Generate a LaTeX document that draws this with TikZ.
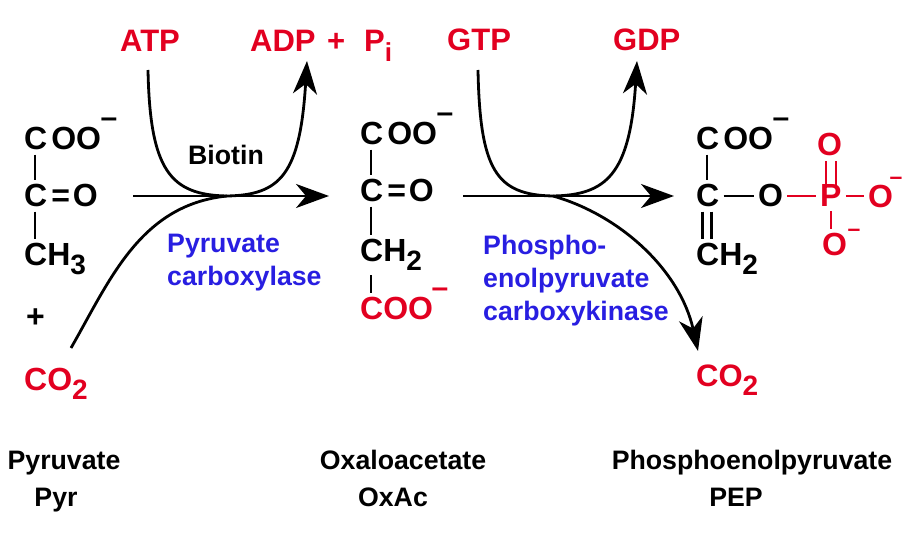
\documentclass[tikz,border=0pt]{standalone}
\usepackage{fontspec}
\setmainfont{Liberation Sans}
\usetikzlibrary{arrows.meta}
\definecolor{cofactor}{RGB}{226,0,32}
\definecolor{enzyme}{RGB}{40,30,225}
\newcommand{\lowr}[1]{\raisebox{-9pt}{\fontsize{28}{28}\selectfont #1}}
\tikzset{
	atom/.style={font=\fontsize{32}{36}\selectfont\bfseries,inner sep=1pt,anchor=base west},
	redatom/.style={atom,text=cofactor},
	charge/.style={font=\fontsize{30}{36}\selectfont\bfseries,inner sep=0pt},
	smallcharge/.style={font=\fontsize{23}{26}\selectfont\bfseries,inner sep=0pt,text=cofactor},
	cof/.style={font=\fontsize{31}{36}\selectfont\bfseries,text=cofactor,inner sep=1pt,anchor=base west},
	catalyst/.style={font=\fontsize{26.7}{33}\selectfont\bfseries,text=enzyme,align=left,inner sep=0pt,anchor=west},
	caption/.style={font=\fontsize{26.7}{30}\selectfont\bfseries,inner sep=0pt,anchor=base},
	bond/.style={line width=2.4pt,shorten >=3pt,shorten <=3pt},
	redbond/.style={bond,draw=cofactor},
	flow/.style={line width=2.8pt,-{Stealth[length=33pt,width=24pt,inset=10pt]}}
}
\begin{document}
\begin{tikzpicture}[x=1pt,y=-1pt]
	\useasboundingbox (0,0) rectangle (922,548);
	% pyruvate
	\coordinate (pyrx) at (35,0);
	\node[atom] (pyrcoo) at (23,150) {C\kern4pt OO};
	\node[charge] (pyrminus) at (109,123) {–};
	\node[atom] (pyrco) at (23,207) {C\kern4pt=\kern3pt O};
	\node[atom] (pyrch) at (23,266) {CH\lowr{3}};
	\node[atom] (pyrplus) at (25,328) {+};
	\node[redatom] (pyrcotwo) at (23,391) {CO\lowr{2}};
	\draw[bond] (pyrcoo.south -| pyrx) -- (pyrco.north -| pyrx);
	\draw[bond] (pyrco.south -| pyrx) -- (pyrch.north -| pyrx);
	% oxaloacetate
	\coordinate (oxax) at (371,0);
	\node[atom] (oxacoo) at (359,145) {C\kern4pt OO};
	\node[charge] (oxaminus) at (445,118) {–};
	\node[atom] (oxaco) at (359,202) {C\kern4pt=\kern3pt O};
	\node[atom] (oxach) at (359,262) {CH\lowr{2}};
	\node[redatom] (oxared) at (359,320) {COO};
	\node[charge,text=cofactor] (oxaredminus) at (440,293) {–};
	\draw[bond] (oxacoo.south -| oxax) -- (oxaco.north -| oxax);
	\draw[bond] (oxaco.south -| oxax) -- (oxach.north -| oxax);
	\draw[bond] (oxach.south -| oxax) -- (oxared.north -| oxax);
	% phosphoenolpyruvate
	\coordinate (pepx) at (707,0);
	\node[atom] (pepcoo) at (695,150) {C\kern4pt OO};
	\node[charge] (pepminus) at (781,123) {–};
	\node[atom] (pepc) at (695,207) {C};
	\node[atom] (pepch) at (695,266) {CH\lowr{2}};
	\node[atom] (pepo) at (757,207) {O};
	\node[redatom] (pepp) at (819,207) {P};
	\node[redatom] (peptop) at (816,156) {O};
	\node[redatom] (pepright) at (867,208) {O};
	\node[smallcharge] (peprightminus) at (896,181) {–};
	\node[redatom] (pepdown) at (821,256) {O};
	\node[smallcharge] (pepdownminus) at (854,233) {–};
	\draw[bond] (pepcoo.south -| pepx) -- (pepc.north -| pepx);
	\draw[bond,transform canvas={xshift=-4.5pt}] (pepc.south -| pepx) -- (pepch.north -| pepx);
	\draw[bond,transform canvas={xshift=4.5pt}] (pepc.south -| pepx) -- (pepch.north -| pepx);
	\draw[bond] (pepc.east |- 0,196) -- (pepo.west |- 0,196);
	\draw[redbond] (pepo.east |- 0,196) -- (pepp.west |- 0,196);
	\draw[redbond] (pepp.east |- 0,196) -- (pepright.west |- 0,196);
	\draw[redbond] (pepp.south) -- (pepdown.north -| pepp);
	\draw[redbond,shorten <=-4pt,transform canvas={xshift=-5pt}] (pepp.north) -- (peptop.south -| pepp);
	\draw[redbond,shorten <=-4pt,transform canvas={xshift=5pt}] (pepp.north) -- (peptop.south -| pepp);
	% cofactors
	\node[cof] (atp) at (119,52) {ATP};
	\node[cof] (adp) at (249,52) {ADP\ \kern3pt+};
	\node[cof] (pi) at (363,52) {P\raisebox{-10pt}{\fontsize{26}{26}\selectfont i}};
	\node[cof] (gtp) at (446,51) {GTP};
	\node[cof] (gdp) at (612,51) {GDP};
	\node[cof] (cotworight) at (695,387) {CO\lowr{2}};
	% reaction arrows
	\coordinate (pcmid) at (227,196);
	\coordinate (pckmid) at (553,196);
	\coordinate (atpout) at (148,70);
	\coordinate (adpin) at (307,61);
	\coordinate (gtpout) at (478,70);
	\coordinate (gdpin) at (637,61);
	\coordinate (cotwoout) at (71,348);
	\coordinate (cotwoin) at (698,351);
	\coordinate (pyrout) at (133,196);
	\coordinate (oxain) at (329,196);
	\coordinate (oxaout) at (463,196);
	\coordinate (pepin) at (674,196);
	\draw[flow] (pyrout) -- (oxain);
	\draw[flow] (oxaout) -- (pepin);
	\draw[flow] (atpout) .. controls (150,170) and (170,195) .. (pcmid) .. controls (280,195) and (300,175) .. (adpin);
	\draw[flow] (gtpout) .. controls (480,170) and (496,195) .. (pckmid) .. controls (606,195) and (630,175) .. (gdpin);
	\draw[line width=2.8pt] (cotwoout) .. controls (110,280) and (140,205) .. (pcmid);
	\draw[flow] (pckmid) .. controls (620,215) and (680,270) .. (cotwoin);
	% enzymes
	\node[caption,anchor=base west] (biotin) at (188,165) {Biotin};
	\node[catalyst] (pc) at (167,263) {Pyruvate\\carboxylase};
	\node[catalyst] (pck) at (483,281) {Phospho-\\enolpyruvate\\carboxykinase};
	% names
	\node[caption] (pyrname) at (64,469) {Pyruvate};
	\node[caption] (pyrshort) at (56,506) {Pyr};
	\node[caption] (oxaname) at (403,469) {Oxaloacetate};
	\node[caption] (oxashort) at (393,506) {OxAc};
	\node[caption] (pepname) at (752,469) {Phosphoenolpyruvate};
	\node[caption] (pepshort) at (736,506) {PEP};
\end{tikzpicture}
\end{document}
